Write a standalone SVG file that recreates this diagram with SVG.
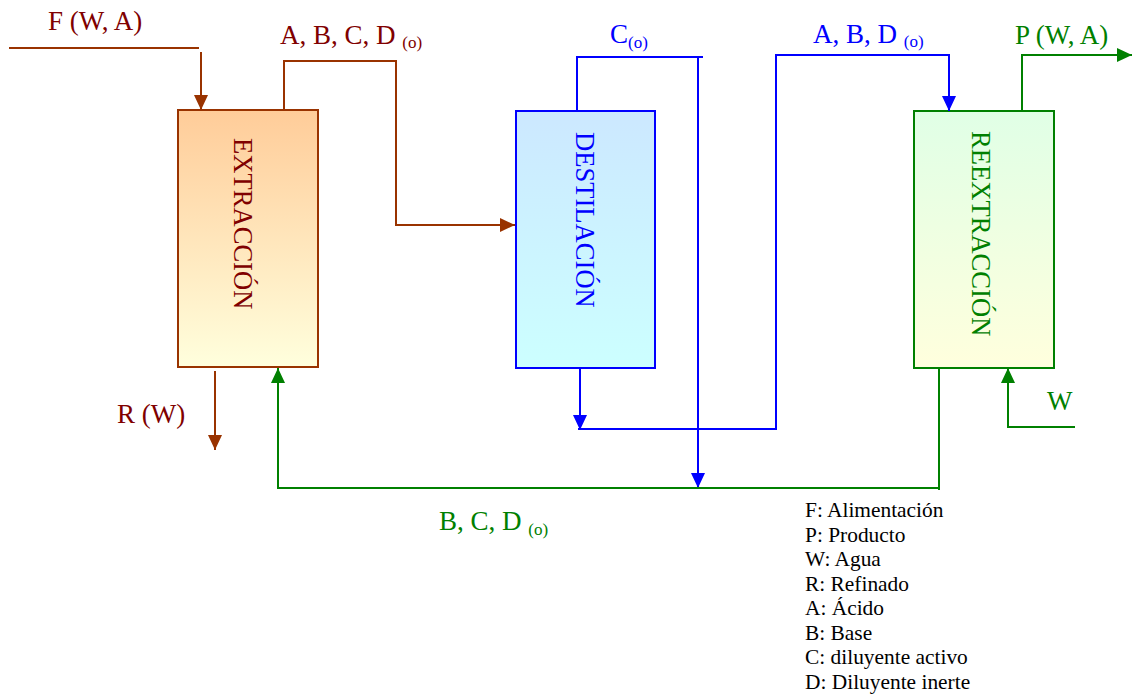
<svg xmlns="http://www.w3.org/2000/svg" width="1135" height="695" viewBox="0 0 1135 695">
<style>
text{font-family:"Liberation Serif","Times New Roman",serif;}
.lbl{font-size:27px;}
.rot{font-size:26.6px;}
.sub{font-size:17px;}
.leg{font-size:21.4px;fill:#000;}
.br{stroke:#993300;stroke-width:2;fill:none;}
.bl{stroke:#0000FF;stroke-width:2;fill:none;}
.gr{stroke:#008000;stroke-width:2;fill:none;}
.tbr{fill:#800000;}
.tbl{fill:#0000FF;}
.tgr{fill:#008000;}
</style>
<defs>
<linearGradient id="gExt" x1="0" y1="0" x2="0" y2="1"><stop offset="0" stop-color="#FFCC99"/><stop offset="1" stop-color="#FFFFDD"/></linearGradient>
<linearGradient id="gDes" x1="0" y1="0" x2="0" y2="1"><stop offset="0" stop-color="#CCE8FF"/><stop offset="1" stop-color="#CCFFFF"/></linearGradient>
<linearGradient id="gRee" x1="0" y1="0" x2="0" y2="1"><stop offset="0" stop-color="#E0FFE6"/><stop offset="1" stop-color="#FFFFDD"/></linearGradient>
<marker id="aBr" markerUnits="userSpaceOnUse" markerWidth="16" markerHeight="16" viewBox="0 0 16 16" refX="15" refY="8" orient="auto"><path d="M0,1 L15,8 L0,15 Z" fill="#993300"/></marker>
<marker id="aBl" markerUnits="userSpaceOnUse" markerWidth="16" markerHeight="16" viewBox="0 0 16 16" refX="15" refY="8" orient="auto"><path d="M0,1 L15,8 L0,15 Z" fill="#0000FF"/></marker>
<marker id="aGr" markerUnits="userSpaceOnUse" markerWidth="16" markerHeight="16" viewBox="0 0 16 16" refX="15" refY="8" orient="auto"><path d="M0,1 L15,8 L0,15 Z" fill="#008000"/></marker>
</defs>
<g id="extraccion">
<rect x="178" y="110" width="140" height="257" fill="url(#gExt)" stroke="#993300" stroke-width="2"/>
<text class="rot tbr" transform="translate(234,138) rotate(90)">EXTRACCIÓN</text>
</g>
<g id="destilacion">
<rect x="516" y="111" width="139" height="257" fill="url(#gDes)" stroke="#0000FF" stroke-width="2"/>
<text class="rot tbl" transform="translate(576,132) rotate(90)">DESTILACIÓN</text>
</g>
<g id="reextraccion">
<rect x="914" y="111" width="140" height="257" fill="url(#gRee)" stroke="#008000" stroke-width="2"/>
<text class="rot tgr" transform="translate(972,131) rotate(90)">REEXTRACCIÓN</text>
</g>
<g id="connectors">
<path class="br" d="M9,48 H199"/>
<path class="br" d="M201,52 V110" marker-end="url(#aBr)"/>
<path class="br" d="M284,110 V61 H396 V225 H515" marker-end="url(#aBr)"/>
<path class="br" d="M215,371 V450" marker-end="url(#aBr)"/>
<path class="bl" d="M577,111 V57 H703 M698,57 V488" marker-end="url(#aBl)"/>
<path class="bl" d="M580,368 V430" marker-end="url(#aBl)"/>
<path class="bl" d="M578,429 H776 V55 H949 V111" marker-end="url(#aBl)"/>
<path class="gr" d="M1022,111 V55 H1132" marker-end="url(#aGr)"/>
<path class="gr" d="M939,368 V490 M939,488 H278 V368" marker-end="url(#aGr)"/>
<path class="gr" d="M1075,427 H1008 V368" marker-end="url(#aGr)"/>
</g>
<g id="labels">
<text class="lbl tbr" x="48" y="30">F (W, A)</text>
<text class="lbl tbr" x="280" y="44">A, B, C, D <tspan class="sub" dy="4">(o)</tspan></text>
<text class="lbl tbr" x="117" y="423">R (W)</text>
<text class="lbl tbl" x="610" y="43">C<tspan class="sub" dy="5">(o)</tspan></text>
<text class="lbl tbl" x="813" y="43">A, B, D <tspan class="sub" dy="4">(o)</tspan></text>
<text class="lbl tgr" x="1015" y="44">P (W, A)</text>
<text class="lbl tgr" x="1047" y="410">W</text>
<text class="lbl tgr" x="439" y="530">B, C, D <tspan class="sub" dy="5">(o)</tspan></text>
</g>
<g id="legend">
<text class="leg" x="805" y="517">F: Alimentación</text>
<text class="leg" x="805" y="542">P: Producto</text>
<text class="leg" x="805" y="566">W: Agua</text>
<text class="leg" x="805" y="591">R: Refinado</text>
<text class="leg" x="805" y="615">A: Ácido</text>
<text class="leg" x="805" y="640">B: Base</text>
<text class="leg" x="805" y="664">C: diluyente activo</text>
<text class="leg" x="805" y="689">D: Diluyente inerte</text>
</g>
</svg>
